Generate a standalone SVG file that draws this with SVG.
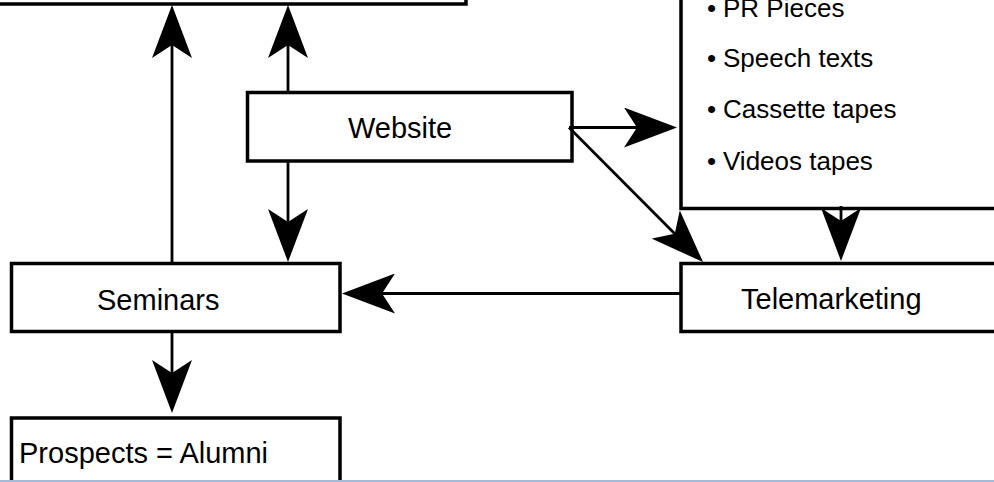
<svg xmlns="http://www.w3.org/2000/svg" width="994" height="482" viewBox="0 0 994 482">
<style>
.box{fill:#fff;stroke:#000;stroke-width:3.5}
.lbl{font-family:"Liberation Sans",Arial,sans-serif;font-size:29px;fill:#000}
.item{font-family:"Liberation Sans",Arial,sans-serif;font-size:26px;fill:#000}
.con{stroke:#000;stroke-width:2.8;fill:none;marker-end:url(#ah)}
</style>
<defs>
<marker id="ah" viewBox="0 0 53 40" markerWidth="53" markerHeight="40" refX="13" refY="20" orient="auto" markerUnits="userSpaceOnUse">
<path d="M53,20 L0,0 L13,20 L0,40 Z" fill="#000"/>
</marker>
</defs>
<rect width="994" height="482" fill="#fff"/>
<g id="top-box"><rect class="box" x="-20" y="-100" width="486" height="104"/></g>
<g id="materials">
<rect class="box" x="681" y="-100" width="340" height="308.5"/>
<text class="item" x="707" y="17">•<tspan x="723">PR Pieces</tspan></text>
<text class="item" x="707" y="67">•<tspan x="723">Speech texts</tspan></text>
<text class="item" x="707" y="118">•<tspan x="723">Cassette tapes</tspan></text>
<text class="item" x="707" y="170">•<tspan x="723">Videos tapes</tspan></text>
</g>
<g id="website"><rect class="box" x="247.5" y="92.5" width="324.5" height="68.5"/><text class="lbl" x="348" y="138">Website</text></g>
<g id="seminars"><rect class="box" x="11.5" y="263.5" width="328.5" height="68"/><text class="lbl" x="97" y="310">Seminars</text></g>
<g id="telemarketing"><rect class="box" x="681" y="263.5" width="340" height="68"/><text class="lbl" x="741" y="309">Telemarketing</text></g>
<g id="prospects"><rect class="box" x="11.5" y="418" width="328.5" height="100"/><text class="lbl" x="19" y="463">Prospects = Alumni</text></g>
<g id="connectors">
<line class="con" x1="172" y1="263" x2="172" y2="45"/>
<line class="con" x1="288" y1="92" x2="288" y2="45"/>
<line class="con" x1="288" y1="161" x2="288" y2="222"/>
<line class="con" x1="569" y1="127.5" x2="637" y2="127.5"/>
<line class="con" x1="569" y1="127.5" x2="674.8" y2="233.7"/>
<line class="con" x1="841" y1="206" x2="841" y2="221"/>
<line class="con" x1="681" y1="293.5" x2="382" y2="293.5"/>
<line class="con" x1="172" y1="331" x2="172" y2="373"/>
</g>
<rect x="0" y="480" width="994" height="2" fill="#a3bbd9"/>
</svg>
